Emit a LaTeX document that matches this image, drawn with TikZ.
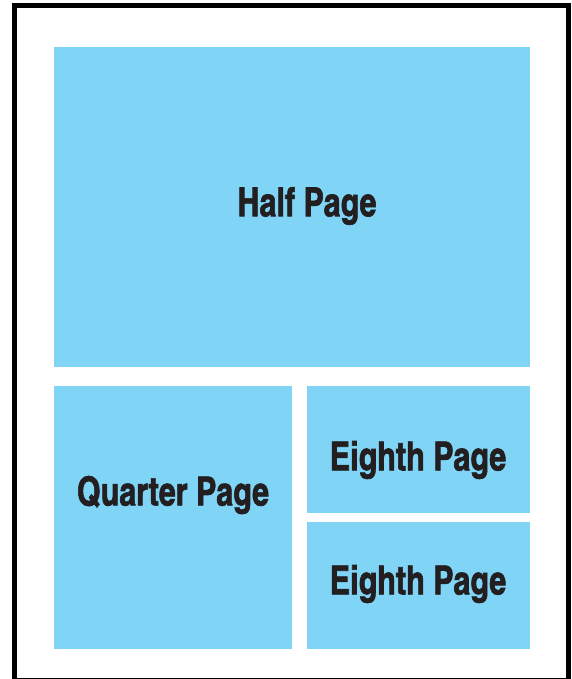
\documentclass[tikz,border=0pt]{standalone}
\usepackage{fontspec}
\setmainfont{TeX Gyre Heros Cn}[BoldFont={* Bold},BoldFeatures={FakeBold=1.6}]
\definecolor{adblue}{HTML}{80D5F7}
\definecolor{adtext}{HTML}{231F20}
\tikzset{
	adlabel/.style={text=adtext,font=\fontsize{40}{44}\selectfont\bfseries,inner sep=0pt,xscale=0.93}
}
\begin{document}
\begin{tikzpicture}[x=1pt,y=-1pt]
	\useasboundingbox (0,0) rectangle (571,679);
	\fill[white] (0,0) rectangle (571,679);
	\fill[adblue] (54,47) rectangle (530,367);
	\fill[adblue] (54,386) rectangle (292,649);
	\fill[adblue] (307,386) rectangle (530,513);
	\fill[adblue] (307,522) rectangle (530,649);
	\draw[line width=5pt] (14.5,5.5) rectangle (568.5,680.5);
	\node[adlabel] (half) at (307,206) {Half Page};
	\node[adlabel] (quarter) at (173,495) {Quarter Page};
	\node[adlabel] (eighthA) at (418,460) {Eighth Page};
	\node[adlabel] (eighthB) at (418,584) {Eighth Page};
\end{tikzpicture}
\end{document}
